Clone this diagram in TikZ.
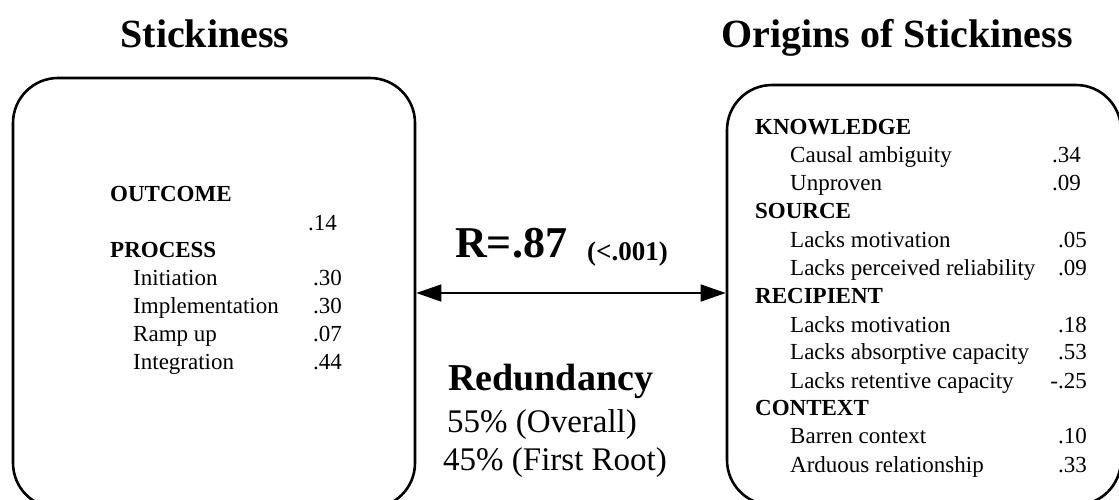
\documentclass[tikz,border=0pt]{standalone}
\usepackage{fontspec}
\setmainfont{Liberation Serif}
\usetikzlibrary{arrows.meta}
\tikzset{
  panel/.style={draw=black, line width=2.6pt, rounded corners=45pt, inner sep=0pt},
  title/.style={anchor=base, font=\fontsize{40}{44}\selectfont\bfseries, inner sep=0pt},
  hdr/.style={anchor=base west, font=\fontsize{23}{28}\selectfont\bfseries, inner sep=0pt},
  item/.style={anchor=base west, font=\fontsize{23}{28}\selectfont, inner sep=0pt},
  val/.style={anchor=base east, font=\fontsize{23}{28}\selectfont, inner sep=0pt},
  link/.style={line width=1.5pt, {Triangle[length=25pt,width=17pt]}-{Triangle[length=25pt,width=17pt]}}
}
\begin{document}
\begin{tikzpicture}[x=1pt,y=-1pt]
\useasboundingbox (0,0) rectangle (1119,499);
\clip (0,0) rectangle (1119,499);
% titles
\node[title] (t1) at (205,47) {Stickiness};
\node[title] (t2) at (897,47) {Origins of Stickiness};
% boxes
\node[panel, minimum width=402pt, minimum height=430pt] (leftbox) at (214,293) {};
\node[panel, minimum width=394pt, minimum height=420pt] (rightbox) at (924,295) {};
% arrow
\draw[link] (leftbox.east) -- (leftbox.east -| rightbox.west);
% left contents
\node[hdr] (outcome) at (110,201) {OUTCOME};
\node[val] (v14) at (337,230) {.14};
\node[hdr] (process) at (110,257) {PROCESS};
\node[item] (init) at (133,285) {Initiation};
\node[val] (vinit) at (342,285) {.30};
\node[item] (impl) at (133,313) {Implementation};
\node[val] (vimpl) at (342,313) {.30};
\node[item] (ramp) at (133,341) {Ramp up};
\node[val] (vramp) at (342,341) {.07};
\node[item] (integ) at (133,369) {Integration};
\node[val] (vinteg) at (342,369) {.44};
% centre
\node[anchor=base west, inner sep=0pt, font=\fontsize{44}{48}\selectfont\bfseries] (r) at (455,257) {R=.87};
\node[anchor=base west, inner sep=0pt, font=\fontsize{27}{30}\selectfont\bfseries] (p) at (587,260) {(<.001)};
\node[anchor=base west, inner sep=0pt, font=\fontsize{38}{42}\selectfont\bfseries] (red) at (448,390) {Redundancy};
\node[anchor=base west, inner sep=0pt, font=\fontsize{33}{36}\selectfont] (ov) at (447,432) {55\% (Overall)};
\node[anchor=base west, inner sep=0pt, font=\fontsize{33}{36}\selectfont] (fr) at (443,470) {45\% (First Root)};
% right contents
\node[hdr] (know) at (755,134) {KNOWLEDGE};
\node[item] (causal) at (790,162) {Causal ambiguity};
\node[val] (vcausal) at (1081,162) {.34};
\node[item] (unpr) at (790,190) {Unproven};
\node[val] (vunpr) at (1081,190) {.09};
\node[hdr] (source) at (755,218) {SOURCE};
\node[item] (smot) at (790,247) {Lacks motivation};
\node[val] (vsmot) at (1087,247) {.05};
\node[item] (srel) at (790,275) {Lacks perceived reliability};
\node[val] (vsrel) at (1087,275) {.09};
\node[hdr] (recip) at (755,303) {RECIPIENT};
\node[item] (rmot) at (790,332) {Lacks motivation};
\node[val] (vrmot) at (1087,332) {.18};
\node[item] (rabs) at (790,359) {Lacks absorptive capacity};
\node[val] (vrabs) at (1087,359) {.53};
\node[item] (rret) at (790,388) {Lacks retentive capacity};
\node[val] (vrret) at (1087,388) {-.25};
\node[hdr] (context) at (755,415) {CONTEXT};
\node[item] (barren) at (790,443) {Barren context};
\node[val] (vbarren) at (1087,443) {.10};
\node[item] (ard) at (790,472) {Arduous relationship};
\node[val] (vard) at (1087,472) {.33};
\end{tikzpicture}
\end{document}
